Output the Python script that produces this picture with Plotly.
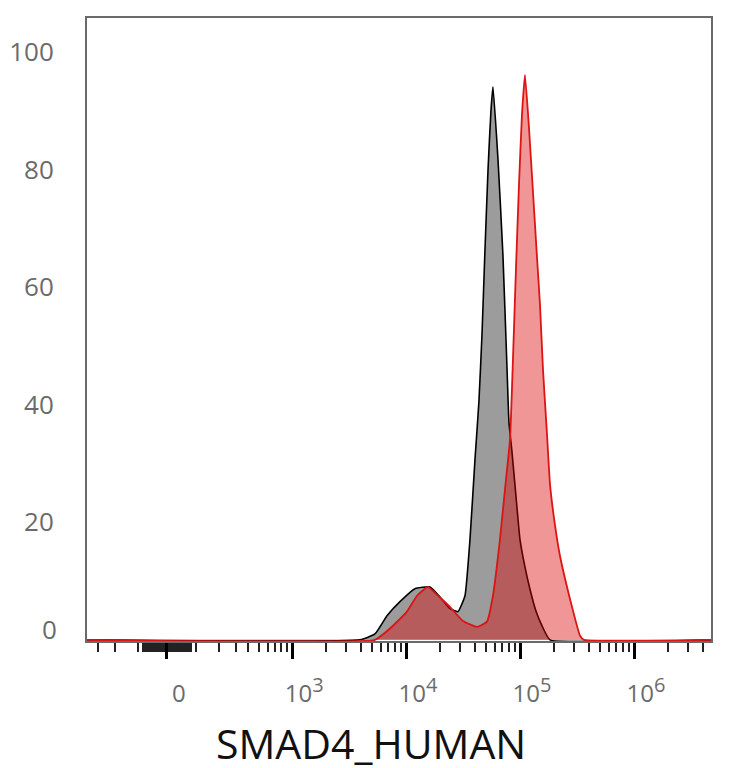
import numpy as np
import plotly.graph_objects as go

# biexponential-like display transform (arcsinh)
COFACTOR = 160.0


def biex(v):
    return np.arcsinh(np.asarray(v, dtype=float) / COFACTOR) / np.log(10)


# control (black) histogram: fluorescence intensity vs % of max
ctrl_x = [-400, 3940, 5340, 6810, 8850, 11980, 16220, 19860, 24300, 28560, 32900,
          36400, 40280, 43600, 46400, 49200, 52400, 55600, 57900,
          64100, 70800, 76800, 80000, 85000, 92100, 99900, 110500, 122000, 138000,
          155700, 183200, 5000000]
ctrl_y = [0, 0, 1.0, 4.1, 6.5, 8.7, 9.0, 7.3, 5.3, 4.8, 7.5,
          17.1, 30.7, 40.5, 52.0, 66.0, 80.0, 90.0, 94.1,
          81.7, 65.5, 46.5, 37.0, 32.0, 24.5, 17.1, 12.4, 8.7, 4.9,
          2.4, 0, 0]

# SMAD4 stained (red) histogram
smad4_x = [-400, 5340, 6540, 7680, 10190, 12480, 15570, 19070, 24300, 31560,
           41900, 51300, 57900, 66700, 73800, 81700, 86700, 92100, 97900,
           104000, 110500, 119700, 130000, 141000, 149700, 159000, 172400,
           183200, 202600, 224000, 274000, 336000, 364000, 5000000]
smad4_y = [0, 0, 1.2, 2.4, 4.8, 7.5, 9.0, 7.5, 5.6, 3.2,
           2.2, 3.1, 7.5, 17.1, 25.6, 34.1, 47.7, 63.0, 77.4,
           89.3, 96.1, 87.3, 76.1, 65.0, 57.0, 46.0, 35.0,
           26.5, 19.5, 14.3, 7.0, 0.7, 0, 0]

# axis ticks
major_vals = [0, 1e3, 1e4, 1e5, 1e6]
major_text = ["0", "10<sup><span style='font-size:20px'>3</span></sup>",
              "10<sup><span style='font-size:20px'>4</span></sup>",
              "10<sup><span style='font-size:20px'>5</span></sup>",
              "10<sup><span style='font-size:20px'>6</span></sup>"]
minor_vals = ([-m * 100 for m in range(1, 10)] + [v for v in range(-80, 85, 5) if v != 0] + [100]
              + [m * 10 ** k for k in (2, 3, 4, 5, 6) for m in range(2, 10)])
y_ticks = [20, 40, 60, 80, 100]

fig = go.Figure()

fig.add_trace(go.Scatter(
    x=biex(ctrl_x), y=ctrl_y, mode="lines",
    line=dict(color="black", width=1.6, shape="spline", smoothing=0.4),
    fill="tozeroy", fillcolor="rgba(0,0,0,0.39)",
    showlegend=False, hoverinfo="skip"
))
fig.add_trace(go.Scatter(
    x=biex(smad4_x), y=smad4_y, mode="lines",
    line=dict(color="rgb(220,20,20)", width=1.8, shape="spline", smoothing=0.4),
    fill="tozeroy", fillcolor="rgba(218,0,0,0.41)",
    showlegend=False, hoverinfo="skip"
))

# page body adds an 8px offset, so the figure is drawn 8px smaller
fig.update_layout(
    width=726, height=760, autosize=False,
    margin=dict(l=79, r=23, t=10, b=127),
    plot_bgcolor="white", paper_bgcolor="white",
    font=dict(family="Open Sans", color="#666666"),
)

fig.update_xaxes(
    range=[float(biex(-386)), 4.772], automargin=False,
    showgrid=False, zeroline=False,
    showline=True, linecolor="#6a6a6a", linewidth=2, mirror=True,
    tickmode="array", tickvals=biex(major_vals), ticktext=major_text,
    ticks="outside", ticklen=16, tickwidth=3, tickcolor="black",
    tickfont=dict(size=24, color="#6b6b6b"),
    ticklabelshift=12, ticklabelstandoff=14,
    minor=dict(tickmode="array", tickvals=biex(minor_vals), ticks="outside",
               ticklen=9, tickwidth=1.5, tickcolor="#222222"),
)

fig.update_yaxes(
    range=[-0.2, 105.8], automargin=False,
    showgrid=False, zeroline=False,
    showline=True, linecolor="#6a6a6a", linewidth=2, mirror=True,
    tickmode="array", tickvals=y_ticks, ticks="",
    tickfont=dict(size=26, color="#6b6b6b"),
    ticklabelstandoff=26,
)

# zero label sits a little above the baseline, as in the original
fig.add_annotation(text="0", xref="paper", x=0, xanchor="right", xshift=-28,
                   yref="y", y=0, yanchor="middle", yshift=11,
                   showarrow=False, font=dict(size=26, color="#6b6b6b"))

fig.add_annotation(text="SMAD4_HUMAN", xref="paper", x=0.455, yref="paper", y=-0.163,
                   xanchor="center", yanchor="middle", showarrow=False,
                   font=dict(size=41, color="#111111", family="Open Sans"))

fig.write_html("out.html")
